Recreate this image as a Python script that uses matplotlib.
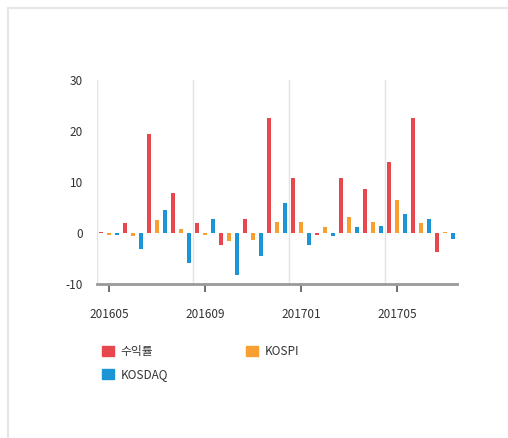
import numpy as np
import matplotlib
matplotlib.use("Agg")
import matplotlib.pyplot as plt
from matplotlib.patches import Rectangle, Patch

plt.rcParams['font.family'] = ['Noto Sans CJK KR', 'DejaVu Sans']
plt.rcParams['axes.unicode_minus'] = False

# data
months = ['201605', '201606', '201607', '201608', '201609', '201610', '201611',
          '201612', '201701', '201702', '201703', '201704', '201705', '201706',
          '201707']
returns = [0.1, 1.9, 19.4, 7.9, 1.9, -2.4, 2.7, 22.6, 10.8, -0.4, 10.8, 8.6,
           14.0, 22.6, -3.7]
kospi = [-0.4, -0.5, 2.5, 0.7, -0.3, -1.5, -1.3, 2.1, 2.1, 1.1, 3.2, 2.1, 6.5,
         1.9, 0.1]
kosdaq = [-0.3, -3.2, 4.5, -5.8, 2.7, -8.3, -4.5, 5.9, -2.4, -0.5, 1.1, 1.4,
          3.7, 2.7, -1.1]
series_names = ['수익률', 'KOSPI', 'KOSDAQ']
colors = ['#e8474e', '#f7a031', '#1b95d5']

fig = plt.figure(figsize=(5.08, 4.38), dpi=100)
ax = fig.add_axes([97 / 508, 1 - 284 / 438, 360 / 508, 204 / 438])

# outer frame
fig.patches.append(Rectangle((8 / 508, -0.1), 1.2, 1.1 - 8 / 438,
                             transform=fig.transFigure, fill=False,
                             edgecolor='#e6e6e6', linewidth=1.5))

x = np.arange(len(months))
offset = 1 / 3
width = 0.14
for i, (vals, c) in enumerate(zip([returns, kospi, kosdaq], colors)):
    ax.bar(x + (i - 1) * offset, vals, width=width, color=c, zorder=3)

# vertical grid lines at every 4th category boundary
for gx in np.arange(-0.5, len(months), 4):
    ax.axvline(gx, color='#e3e3e3', linewidth=1, zorder=1)

ax.set_xlim(-0.5, len(months) - 0.5)
ax.set_ylim(-10, 30)
ax.set_yticks([-10, 0, 10, 20, 30])
ax.set_xticks(x[::4])
ax.set_xticklabels(months[::4])

for s in ['top', 'right', 'left']:
    ax.spines[s].set_visible(False)
ax.spines['bottom'].set_color('#999999')
ax.spines['bottom'].set_linewidth(2)
ax.tick_params(axis='y', length=0, pad=10, labelsize=8.5, labelcolor='#333333')
ax.tick_params(axis='x', length=6, width=1.2, color='#555555', pad=11,
               labelsize=8.5, labelcolor='#333333')

handles = [Patch(color=colors[0], label=series_names[0]),
           Patch(color=colors[2], label=series_names[2]),
           Patch(color=colors[1], label=series_names[1])]
fig.legend(handles=handles, ncol=2, loc='upper left',
           bbox_to_anchor=(96 / 508, 1 - 339 / 438), frameon=False,
           fontsize=8.5, handlelength=1.0, handleheight=1.0,
           handletextpad=0.6, columnspacing=6.6, labelspacing=0.85,
           borderpad=0, labelcolor='#333333')

fig.savefig('out.png', dpi=100)
